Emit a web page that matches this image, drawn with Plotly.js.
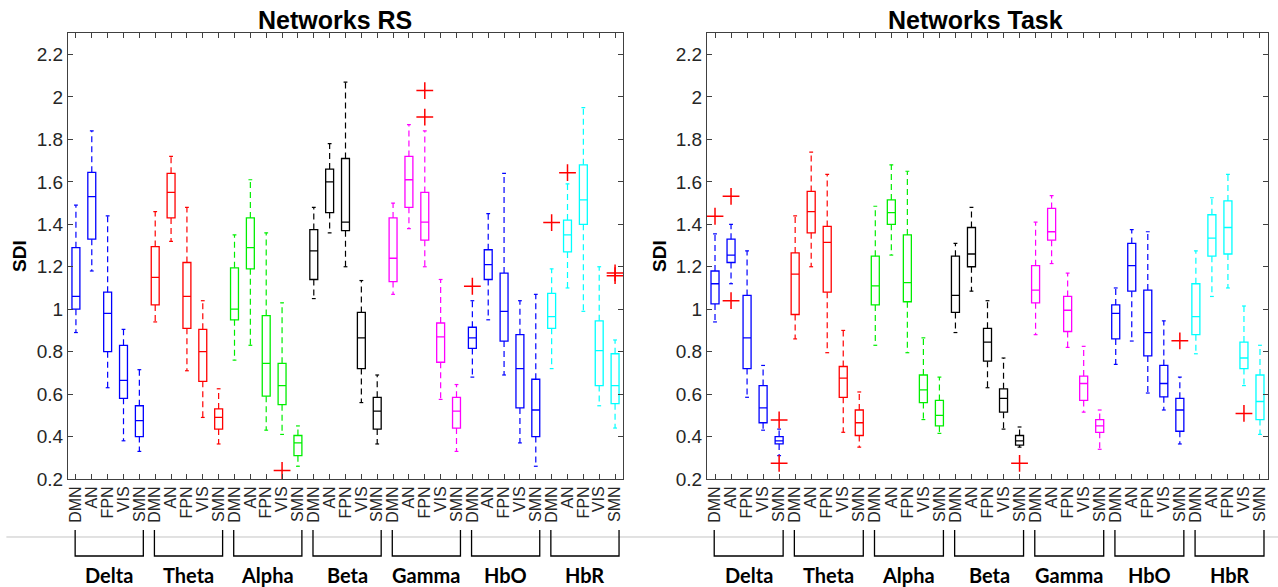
<!DOCTYPE html>
<html>
<head>
<meta charset="utf-8">
<script src="https://cdn.plot.ly/plotly-3.0.1.min.js"></script>
<style>html,body{margin:0;padding:0;background:#fff;}#chart{width:1278px;height:587px;}</style>
</head>
<body>
<div id="chart"></div>
<script>
// ---- Data ----
const bands = ['Delta','Theta','Alpha','Beta','Gamma','HbO','HbR'];
const networks = ['DMN','AN','FPN','VIS','SMN'];
const bandColors = ['#0000ff','#ff0000','#00ee00','#000000','#ff00ff','#0000ff','#00ffff'];

// Networks RS (35 boxes: band-major, network-minor)
const rsLow  = [0.89,1.18,0.63,0.38,0.33, 0.94,1.32,0.71,0.49,0.365, 0.76,0.83,0.43,0.41,0.26, 1.05,1.36,1.20,0.56,0.365, 1.07,1.38,1.20,0.575,0.33, 0.68,0.95,0.69,0.37,0.26, 0.72,1.10,0.99,0.545,0.44];
const rsQ1   = [1.00,1.33,0.80,0.58,0.40, 1.02,1.43,0.91,0.66,0.435, 0.95,1.19,0.59,0.55,0.31, 1.14,1.455,1.37,0.72,0.435, 1.13,1.48,1.325,0.75,0.44, 0.815,1.14,0.85,0.535,0.40, 0.91,1.27,1.40,0.64,0.555];
const rsMed  = [1.06,1.53,0.98,0.665,0.475, 1.15,1.55,1.06,0.80,0.49, 1.00,1.29,0.745,0.64,0.37, 1.275,1.60,1.41,0.865,0.52, 1.24,1.61,1.41,0.87,0.52, 0.865,1.21,0.99,0.72,0.525, 0.965,1.35,1.515,0.805,0.64];
const rsQ3   = [1.29,1.645,1.08,0.83,0.545, 1.295,1.64,1.22,0.905,0.53, 1.195,1.43,0.97,0.745,0.405, 1.375,1.66,1.71,0.985,0.585, 1.43,1.72,1.55,0.935,0.585, 0.915,1.28,1.17,0.88,0.67, 1.075,1.42,1.68,0.945,0.79];
const rsHigh = [1.49,1.84,1.44,0.905,0.715, 1.46,1.72,1.48,1.04,0.625, 1.35,1.61,1.36,1.03,0.45, 1.48,1.78,2.07,1.135,0.69, 1.50,1.87,1.84,1.14,0.645, 1.04,1.45,1.64,1.04,1.07, 1.19,1.59,1.95,1.20,0.855];
const rsOutPos = [14, 23, 23, 26, 31, 32, 35, 35];
const rsOutVal = [0.24, 2.03, 1.905, 1.108, 1.408, 1.643, 1.171, 1.158];

// Networks Task
const tkLow  = [0.94,1.12,0.585,0.43,0.31, 0.86,1.20,0.795,0.42,0.35, 0.83,1.255,0.795,0.48,0.415, 0.89,1.085,0.63,0.435,0.35, 0.88,1.215,0.82,0.515,0.34, 0.74,0.85,0.605,0.525,0.365, 0.79,1.06,1.10,0.64,0.41];
const tkQ1   = [1.025,1.22,0.72,0.465,0.365, 0.975,1.36,1.08,0.585,0.405, 1.02,1.40,1.035,0.56,0.45, 0.985,1.20,0.755,0.515,0.36, 1.03,1.325,0.895,0.57,0.42, 0.86,1.085,0.78,0.587,0.425, 0.88,1.25,1.26,0.72,0.48];
const tkMed  = [1.12,1.255,0.865,0.535,0.38, 1.165,1.46,1.315,0.675,0.465, 1.11,1.455,1.125,0.62,0.50, 1.065,1.26,0.845,0.58,0.38, 1.09,1.365,0.995,0.65,0.45, 0.98,1.205,0.89,0.65,0.525, 0.965,1.335,1.385,0.77,0.565];
const tkQ3   = [1.18,1.33,1.065,0.64,0.40, 1.265,1.555,1.39,0.73,0.525, 1.25,1.515,1.35,0.69,0.57, 1.25,1.385,0.91,0.625,0.405, 1.205,1.475,1.06,0.685,0.48, 1.02,1.31,1.09,0.735,0.58, 1.12,1.445,1.51,0.845,0.69];
const tkHigh = [1.355,1.40,1.275,0.735,0.435, 1.44,1.74,1.635,0.90,0.61, 1.485,1.68,1.65,0.865,0.68, 1.31,1.48,1.04,0.77,0.445, 1.41,1.535,1.17,0.825,0.525, 1.10,1.375,1.365,0.945,0.68, 1.275,1.525,1.635,1.015,0.83];
const tkOutPos = [1, 2, 2, 5, 5, 20, 30, 34];
const tkOutVal = [1.438, 1.532, 1.04, 0.478, 0.274, 0.274, 0.851, 0.509];

// ---- Build ----
const FONT = 'Liberation Sans, Arial, sans-serif';
const AXC = '#404040';
const traces = [];
function addPanel(low, q1, med, q3, high, outPos, outVal, xa, ya) {
  const nN = networks.length;
  bands.forEach((b, bi) => {
    const xs = [], Q1 = [], M = [], Q3 = [];
    const wx = [], wy = [], cx = [], cy = [];
    for (let k = 0; k < nN; k++) {
      const i = bi * nN + k, x = i + 1;
      xs.push(x); Q1.push(q1[i]); M.push(med[i]); Q3.push(q3[i]);
      wx.push(x, x, null, x, x, null);
      wy.push(q3[i], high[i], null, q1[i], low[i], null);
      cx.push(x - 0.12, x + 0.12, null, x - 0.12, x + 0.12, null);
      cy.push(high[i], high[i], null, low[i], low[i], null);
    }
    const col = bandColors[bi];
    traces.push({type:'scatter', mode:'lines', x:wx, y:wy, xaxis:xa, yaxis:ya,
      line:{color:col, width:1.2, dash:'6px,4px'}, hoverinfo:'skip', showlegend:false});
    traces.push({type:'scatter', mode:'lines', x:cx, y:cy, xaxis:xa, yaxis:ya,
      line:{color:col, width:1.2}, hoverinfo:'skip', showlegend:false});
    traces.push({type:'box', x:xs, q1:Q1, median:M, q3:Q3, lowerfence:Q1, upperfence:Q3,
      width:0.5, whiskerwidth:0, boxpoints:false, xaxis:xa, yaxis:ya,
      line:{color:col, width:1.3}, fillcolor:'rgba(0,0,0,0)', hoverinfo:'skip', showlegend:false});
  });
  traces.push({type:'scatter', mode:'markers', x:outPos, y:outVal, xaxis:xa, yaxis:ya,
    marker:{symbol:'cross-thin-open', size:12, line:{color:'#ff0000', width:1.5}, color:'#ff0000'},
    hoverinfo:'skip', showlegend:false});
}
addPanel(rsLow, rsQ1, rsMed, rsQ3, rsHigh, rsOutPos, rsOutVal, 'x', 'y');
addPanel(tkLow, tkQ1, tkMed, tkQ3, tkHigh, tkOutPos, tkOutVal, 'x2', 'y2');

const tickvals = [], ticktext = [];
bands.forEach((b, bi) => networks.forEach((n, k) => { tickvals.push(bi * networks.length + k + 1); ticktext.push(n); }));

function xAxis(domain, anchor) {
  return {domain, anchor, range:[0.5, 35.5], tickvals, ticktext, tickangle:-90,
    ticks:'inside', ticklen:5, tickcolor:AXC, showline:true, linecolor:AXC, linewidth:1,
    mirror:'ticks', showgrid:false, zeroline:false, fixedrange:true,
    tickfont:{family:FONT, size:16, color:'#262626'}};
}
function yAxis(domain, anchor) {
  return {domain, anchor, range:[0.2, 2.3], tick0:0.2, dtick:0.2,
    ticks:'inside', ticklen:5, tickcolor:AXC, showline:true, linecolor:AXC, linewidth:1,
    mirror:'ticks', showgrid:false, zeroline:false, fixedrange:true,
    tickfont:{family:FONT, size:19, color:'#262626'}};
}
const yDom = [0.184, 0.9433];
const shapes = [{type:'line', xref:'paper', yref:'paper', x0:0.005, x1:1, y0:0.0852, y1:0.0852,
  line:{color:'#c4c4c4', width:1}, layer:'below'}];
const annotations = [
  {text:'<b>Networks RS</b>', xref:'paper', yref:'paper', x:0.2621, y:0.966, showarrow:false,
   xanchor:'center', yanchor:'middle', font:{family:FONT, size:25, color:'#000'}},
  {text:'<b>Networks Task</b>', xref:'paper', yref:'paper', x:0.763, y:0.966, showarrow:false,
   xanchor:'center', yanchor:'middle', font:{family:FONT, size:25, color:'#000'}},
  {text:'<b>SDI</b>', xref:'paper', yref:'paper', x:20/1278, y:0.5639, textangle:-90, showarrow:false,
   xanchor:'center', yanchor:'middle', font:{family:FONT, size:19, color:'#000'}},
  {text:'<b>SDI</b>', xref:'paper', yref:'paper', x:660/1278, y:0.5639, textangle:-90, showarrow:false,
   xanchor:'center', yanchor:'middle', font:{family:FONT, size:19, color:'#000'}}
];
['x','x2'].forEach(xr => {
  bands.forEach((b, bi) => {
    const first = bi * networks.length + 1, last = first + networks.length - 1;
    const x0 = first - 0.05, x1 = last + 0.25;
    shapes.push({type:'path', xref:xr, yref:'paper',
      path:`M ${x0},0.097 L ${x0},0.0528 L ${x1},0.0528 L ${x1},0.097`,
      line:{color:'#000', width:1.3}});
    annotations.push({text:'<b>'+b+'</b>', xref:xr, yref:'paper', x:(x0 + x1) / 2, y:0.0204,
      showarrow:false, xanchor:'center', yanchor:'middle',
      font:{family:'Lato, Open Sans, sans-serif', size:20, color:'#000'}});
  });
});

const layout = {
  width:1278, height:587, margin:{l:0, r:0, t:0, b:0}, paper_bgcolor:'#fff', plot_bgcolor:'#fff',
  showlegend:false, boxmode:'overlay',
  xaxis: xAxis([68/1278, 623/1278], 'y'),
  yaxis: yAxis(yDom, 'x'),
  xaxis2: xAxis([707/1278, 1268/1278], 'y2'),
  yaxis2: yAxis(yDom, 'x2'),
  shapes, annotations
};
Plotly.newPlot('chart', traces, layout, {staticPlot:true, displayModeBar:false});
</script>
</body>
</html>
